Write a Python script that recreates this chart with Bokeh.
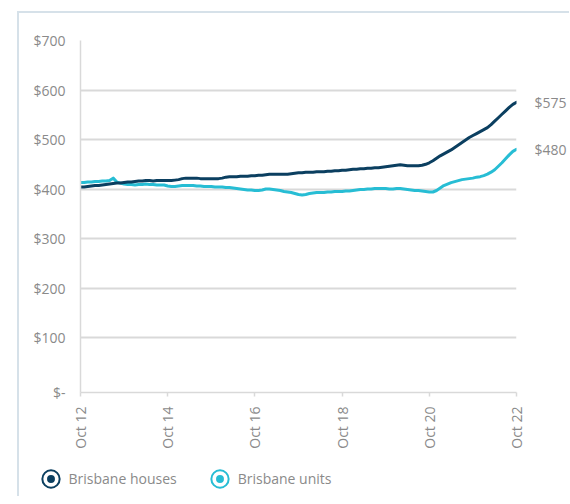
import math
from bokeh.plotting import figure
from bokeh.models import (ColumnDataSource, FixedTicker, Legend, LegendItem,
                          LinearAxis, Range1d)
from bokeh.embed import file_html
from bokeh.resources import INLINE

# ---------------- data (monthly, Oct 2012 .. Oct 2022) ----------------
months = list(range(121))

houses = [
    404, 404, 405, 406, 407, 407,
    408, 409, 410, 411, 412, 412,
    413, 414, 414, 415, 416, 416,
    417, 417, 416, 417, 417, 417,
    417, 417, 418, 419, 421, 422,
    422, 422, 422, 421, 421, 421,
    421, 421, 421, 422, 424, 425,
    425, 425, 426, 426, 426, 427,
    427, 428, 428, 429, 430, 430,
    430, 430, 430, 430, 431, 432,
    433, 433, 434, 434, 434, 435,
    435, 435, 436, 436, 437, 437,
    438, 438, 439, 440, 440, 441,
    441, 442, 442, 443, 443, 444,
    445, 446, 447, 448, 449, 448,
    447, 447, 447, 447, 448, 450,
    453, 457, 462, 467, 471, 475,
    479, 484, 489, 494, 499, 504,
    508, 512, 516, 520, 524, 530,
    537, 544, 551, 558, 565, 571,
    575,
]

units = [
    413, 413, 414, 414, 415, 415,
    416, 416, 417, 422, 414, 412,
    410, 409, 409, 408, 409, 409,
    410, 409, 409, 408, 408, 408,
    406, 405, 405, 406, 407, 407,
    407, 407, 406, 406, 405, 405,
    405, 404, 404, 404, 403, 403,
    402, 401, 400, 399, 398, 398,
    397, 397, 398, 400, 400, 399,
    398, 397, 395, 394, 393, 391,
    389, 388, 389, 391, 392, 393,
    393, 393, 394, 394, 395, 395,
    395, 396, 396, 397, 398, 399,
    399, 400, 400, 401, 401, 401,
    401, 400, 400, 401, 401, 400,
    399, 398, 397, 397, 396, 395,
    394, 394, 397, 402, 407, 410,
    413, 415, 417, 419, 420, 421,
    422, 424, 425, 427, 430, 434,
    439, 446, 453, 461, 469, 476,
    480,
]

series_names = ["Brisbane houses", "Brisbane units"]
x_tick_months = [0, 24, 48, 72, 96, 120]
x_tick_labels = ["Oct 12", "Oct 14", "Oct 16", "Oct 18", "Oct 20", "Oct 22"]
y_floor = -11
y_ticks = [100, 200, 300, 400, 500, 600, 700]
y_floor_label = "$-"

# ---------------- styles ----------------
HOUSE_C = "#0b3f60"
UNIT_C = "#27bdd4"
GRID_C = "#d9d9d9"
TEXT_C = "#8a8a8a"
FONT = "Open Sans"
FS = "14px"
BORDER = "2px solid #d6e1e9"

CANVAS_W = 543
p = figure(frame_width=436, frame_height=352,
           min_border_left=61, min_border_right=46,
           min_border_top=27, min_border_bottom=62,
           x_range=Range1d(months[0], months[-1]),
           y_range=Range1d(y_floor, y_ticks[-1]),
           output_backend="svg", toolbar_location=None)
p.margin = (11, 0, 0, 17)
p.styles = {"border-left": BORDER, "border-top": BORDER}
p.outline_line_color = None
p.background_fill_color = "white"
p.border_fill_color = "white"

# x axis
p.xaxis.ticker = FixedTicker(ticks=x_tick_months)
p.xaxis.major_label_overrides = dict(zip(x_tick_months, x_tick_labels))
p.xaxis.major_label_orientation = math.pi / 2
p.xaxis.axis_line_color = GRID_C
p.xaxis.axis_line_width = 1.5
p.xaxis.major_tick_line_color = GRID_C
p.xaxis.major_tick_line_width = 1.5
p.xaxis.major_tick_out = 4
p.xaxis.major_tick_in = 0
p.xaxis.minor_tick_line_color = None
p.xaxis.major_label_standoff = 10
p.xaxis.major_label_text_font = FONT
p.xaxis.major_label_text_font_size = FS
p.xaxis.major_label_text_color = TEXT_C
p.xgrid.grid_line_color = None

# y axis
yt = [y_floor] + y_ticks
p.yaxis.ticker = FixedTicker(ticks=yt)
labels = {t: "${:d}".format(t) for t in y_ticks}
labels[y_floor] = y_floor_label
p.yaxis.major_label_overrides = labels
p.yaxis.axis_line_color = GRID_C
p.yaxis.axis_line_width = 1.5
p.yaxis.major_tick_line_color = None
p.yaxis.minor_tick_line_color = None
p.yaxis.major_label_standoff = 9
p.yaxis.major_label_text_font = FONT
p.yaxis.major_label_text_font_size = FS
p.yaxis.major_label_text_color = TEXT_C
p.ygrid.grid_line_color = GRID_C
p.ygrid.grid_line_width = 2
p.ygrid.ticker = FixedTicker(ticks=y_ticks)

src = ColumnDataSource(dict(m=months, houses=houses, units=units))
p.line("m", "units", source=src, line_color=UNIT_C, line_width=3,
       line_join="round", line_cap="round")
p.line("m", "houses", source=src, line_color=HOUSE_C, line_width=3,
       line_join="round", line_cap="round")

# end-value labels via a right axis placed at the final values
end_vals = [houses[-1], units[-1]]
raxis = LinearAxis(ticker=FixedTicker(ticks=end_vals),
                   major_label_overrides={v: "${:d}".format(v) for v in end_vals},
                   axis_line_color=None, major_tick_line_color=None,
                   minor_tick_line_color=None, major_label_standoff=12,
                   major_label_text_font=FONT, major_label_text_font_size=FS,
                   major_label_text_color=TEXT_C)
p.add_layout(raxis, "right")

# ---------------- legend strip (separate small figure) ----------------
lg = figure(width=CANVAS_W, height=42, min_border=0,
            x_axis_type=None, y_axis_type=None,
            x_range=Range1d(months[0], months[-1]),
            y_range=Range1d(y_floor, y_ticks[-1]),
            output_backend="svg", toolbar_location=None)
lg.margin = (0, 0, 0, 17)
lg.styles = {"border-left": BORDER}
lg.grid.visible = False
lg.outline_line_color = None
lg.background_fill_color = "white"
lg.border_fill_color = "white"

items = []
for name, col, ys in [(series_names[0], HOUSE_C, houses),
                      (series_names[1], UNIT_C, units)]:
    ra = lg.scatter([months[0]], [ys[0]], marker="circle", size=11.7,
                    fill_color=col, line_color=col, line_width=7.7)
    rb = lg.scatter([months[0]], [ys[0]], marker="circle", size=11.7,
                    fill_color=None, line_color="white", line_width=3.7)
    ra.visible = False
    rb.visible = False
    items.append(LegendItem(label=name, renderers=[ra, rb]))

legend = Legend(items=items, orientation="horizontal",
                location=(16.5, 3.5), margin=0, padding=0,
                glyph_width=29, glyph_height=29, label_standoff=4,
                spacing=28, border_line_color=None,
                background_fill_alpha=0,
                label_text_font=FONT, label_text_font_size=FS,
                label_text_color=TEXT_C)
lg.add_layout(legend)

open("out.html", "w").write(file_html([p, lg], INLINE))
